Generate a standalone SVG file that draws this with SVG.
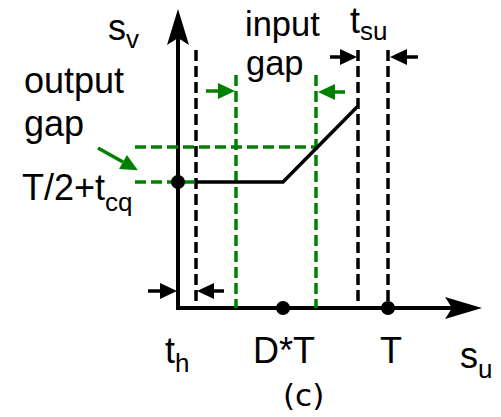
<svg xmlns="http://www.w3.org/2000/svg" width="501" height="417" viewBox="0 0 501 417">
<style>
  .t { font-family: "Liberation Sans", Arial, sans-serif; font-size: 36px; fill: #000; }
  .t2 { font-family: "Liberation Sans", Arial, sans-serif; font-size: 34.5px; fill: #000; }
  .sub { font-size: 26px; }
  .cap { font-family: "DejaVu Sans", sans-serif; font-size: 31px; fill: #000; }
  .axis { stroke: #000; stroke-width: 4; fill: none; }
  .bd { stroke: #000; stroke-width: 3.5; stroke-dasharray: 11 5; fill: none; }
  .gd { stroke: #008000; stroke-width: 3.5; stroke-dasharray: 11 5; fill: none; }
  .ba { stroke: #000; stroke-width: 3.5; fill: none; marker-end: url(#ah); }
  .ga { stroke: #008000; stroke-width: 3.5; fill: none; marker-end: url(#ahg); }
  .curve { stroke: #000; stroke-width: 3.5; fill: none; }
</style>
<defs>
  <marker id="ah" markerUnits="userSpaceOnUse" markerWidth="20" markerHeight="20" refX="0" refY="8" orient="auto" overflow="visible">
    <path d="M0,0 L17,8 L0,16 z" fill="#000"/>
  </marker>
  <marker id="ahg" markerUnits="userSpaceOnUse" markerWidth="20" markerHeight="20" refX="0" refY="8" orient="auto" overflow="visible">
    <path d="M0,0 L17,8 L0,16 z" fill="#008000"/>
  </marker>
</defs>

<g id="axes">
  <line class="axis" x1="178" y1="308" x2="178" y2="36"/>
  <path d="M178,9 L189,45 L178,38 L167,45 z" fill="#000"/>
  <line class="axis" x1="176" y1="308" x2="455" y2="308"/>
  <path d="M482,308 L445,297 L452,308 L445,319 z" fill="#000"/>
</g>

<g id="guides">
  <line class="gd" x1="135" y1="147" x2="318" y2="147"/>
  <line class="gd" x1="135" y1="182" x2="196" y2="182"/>
  <line class="bd" x1="196" y1="50" x2="196" y2="308"/>
  <line class="gd" x1="236" y1="75" x2="236" y2="308"/>
  <line class="gd" x1="316" y1="75" x2="316" y2="308"/>
  <line class="bd" x1="358" y1="50" x2="358" y2="308"/>
  <line class="bd" x1="388" y1="50" x2="388" y2="308"/>
</g>

<g id="curve">
  <polyline class="curve" points="196,182 283,182 358,106"/>
  <circle cx="178" cy="182" r="7" fill="#000"/>
  <circle cx="283" cy="308" r="7" fill="#000"/>
  <circle cx="388" cy="308" r="7" fill="#000"/>
</g>

<g id="connectors">
  <line class="ba" x1="330" y1="57" x2="340" y2="57"/>
  <line class="ba" x1="418" y1="57" x2="407" y2="57"/>
  <line class="ba" x1="148" y1="291" x2="160" y2="291"/>
  <line class="ba" x1="224" y1="291" x2="214" y2="291"/>
  <line class="ga" x1="206" y1="91" x2="218" y2="91"/>
  <line class="ga" x1="345" y1="92" x2="335" y2="92"/>
  <line class="ga" x1="98" y1="148" x2="123" y2="162"/>
</g>

<g id="labels">
  <text class="t" x="108" y="40">s<tspan class="sub" dy="8">v</tspan></text>
  <text class="t2" x="245" y="36">input</text>
  <text class="t2" x="246" y="75">gap</text>
  <text class="t" x="350" y="33">t<tspan class="sub" dy="7">su</tspan></text>
  <text class="t" x="24" y="93">output</text>
  <text class="t" x="24" y="136">gap</text>
  <text class="t" x="22" y="200">T/2+t<tspan class="sub" dy="11">cq</tspan></text>
  <text class="t" x="165" y="363">t<tspan class="sub" dy="9">h</tspan></text>
  <text class="t" x="253" y="363">D*T</text>
  <text class="t" x="380" y="363">T</text>
  <text class="t" x="460" y="368">s<tspan class="sub" dy="10">u</tspan></text>
  <text class="cap" x="283" y="406">(c)</text>
</g>
</svg>
